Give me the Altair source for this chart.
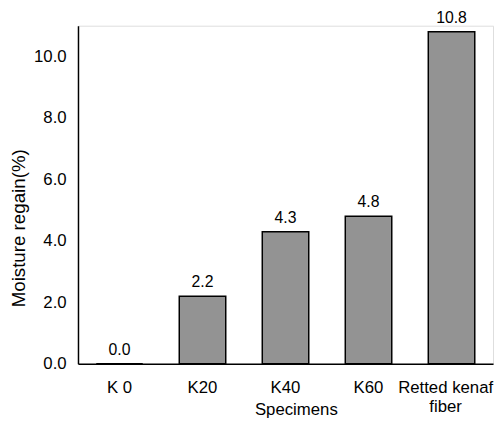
import altair as alt
import pandas as pd

categories = ["K 0", "K20", "K40", "K60", "Retted kenaf|fiber"]
values = [0.0, 2.2, 4.3, 4.8, 10.8]
y_ticks = [0, 2, 4, 6, 8, 10]

df = pd.DataFrame({"cat": categories, "val": values})

FONT = "Liberation Sans"

x = alt.X(
    "cat:N",
    sort=categories,
    scale=alt.Scale(paddingInner=0.44, paddingOuter=0.22),
    axis=alt.Axis(
        title="Specimens",
        labelAngle=0,
        ticks=False,
        labelExpr="split(datum.label, '|')",
        labelFontSize=17,
        labelFont=FONT,
        labelColor="black",
        labelPadding=16,
        labelLineHeight=19,
        labelOffset={"condition": {"test": "datum.value == 'Retted kenaf|fiber'", "value": -6}, "value": 0},
        titleFont=FONT,
        titleFontSize=17,
        titleFontWeight="normal",
        titleColor="black",
        titleX=221,
        titleY=38,
        titleBaseline="top",
        domainColor="black",
        domainWidth=1.5,
    ),
)

y = alt.Y(
    "val:Q",
    scale=alt.Scale(domain=[0, 11], nice=False),
    axis=alt.Axis(
        title="Moisture regain(%)",
        values=y_ticks,
        format=".1f",
        ticks=False,
        grid=False,
        labelFontSize=17,
        labelFont=FONT,
        labelColor="black",
        labelPadding=12,
        titleFont=FONT,
        titleFontSize=19,
        titleFontWeight="normal",
        titleColor="black",
        titleX=-50,
        titleY=205,
        titleBaseline="bottom",
        domainColor="black",
        domainWidth=1.5,
    ),
)

bars = alt.Chart(df).mark_bar(
    fill="#939393", stroke="black", strokeWidth=1.5
).encode(x=x, y=y)

text = alt.Chart(df).mark_text(
    baseline="bottom", dy=-6, fontSize=16, font=FONT, color="black"
).encode(x=x, y=y, text=alt.Text("val:Q", format=".1f"))

chart = (
    alt.layer(bars, text)
    .properties(
        width=421,
        height=343,
        autosize=alt.AutoSizeParams(type="none"),
        padding={"left": 71, "top": 15, "right": 2, "bottom": 54},
    )
    .configure_view(stroke=None)
    .configure(background="white")
)

chart.save("out.html", embed_options={"renderer": "svg", "actions": False})
